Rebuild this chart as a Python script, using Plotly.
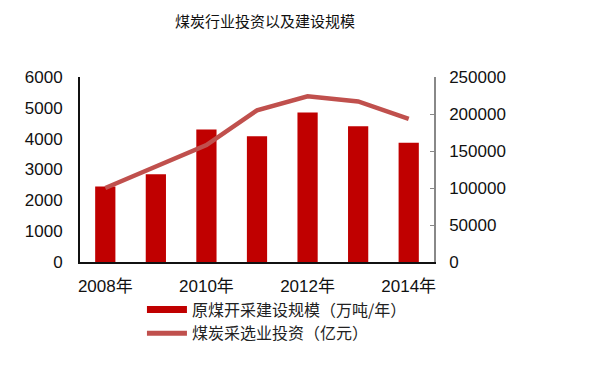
import plotly.graph_objects as go

years = [2008, 2009, 2010, 2011, 2012, 2013, 2014]
capacity = [2450, 2850, 4300, 4080, 4850, 4400, 3870]          # 原煤开采建设规模(万吨/年)
investment = [100000, 129500, 158000, 205000, 224000, 217000, 193500]  # 煤炭采选业投资(亿元)
tick_years = [2008, 2010, 2012, 2014]
tick_text = ["2008年", "2010年", "2012年", "2014年"]
left_ticks = [0, 1000, 2000, 3000, 4000, 5000, 6000]
right_ticks = [0, 50000, 100000, 150000, 200000, 250000]

name_bar = "原煤开采建设规模（万吨/年）"
name_line = "煤炭采选业投资（亿元）"
title = "煤炭行业投资以及建设规模"

BAR_COLOR = "#C00000"
LINE_COLOR = "#C0504D"
FONT = "Liberation Sans, Arial, Noto Sans CJK SC"

# the page body adds an 8px offset, so the figure is 8px smaller on each axis
W, H = 584, 358

fig = go.Figure()
fig.add_trace(go.Bar(x=years, y=capacity, name=name_bar, marker_color=BAR_COLOR,
                     marker_line_width=0, showlegend=False, yaxis="y"))
fig.add_trace(go.Scatter(x=years, y=investment, name=name_line, mode="lines",
                         line=dict(color=LINE_COLOR, width=4.5), showlegend=False, yaxis="y2"))
# legend entries drawn as thick lines, like the reference
fig.add_trace(go.Scatter(x=[None], y=[None], name=name_bar, mode="lines",
                         line=dict(color=BAR_COLOR, width=7)))
fig.add_trace(go.Scatter(x=[None], y=[None], name=name_line, mode="lines",
                         line=dict(color=LINE_COLOR, width=5)))

fig.update_layout(
    width=W, height=H,
    margin=dict(l=72, r=158, t=69, b=104, autoexpand=False),
    paper_bgcolor="white", plot_bgcolor="white",
    font=dict(family=FONT, size=17, color="#111"),
    bargap=0.6,
    title=dict(text=title, x=257 / W, xanchor="center", y=1 - 14 / H, yanchor="middle",
               font=dict(family="Noto Sans CJK SC", size=15, color="#111")),
    xaxis=dict(range=[2007.5, 2014.5], tickmode="array", tickvals=tick_years, ticktext=tick_text,
               showline=True, linecolor="#111", linewidth=2, ticks="", showgrid=False,
               zeroline=False, tickfont=dict(size=17), ticklabelstandoff=8),
    yaxis=dict(range=[0, 6000], tickmode="array", tickvals=left_ticks, showline=True,
               linecolor="#111", linewidth=2, ticks="", showgrid=False, zeroline=False,
               ticklabelstandoff=12),
    yaxis2=dict(range=[0, 250000], tickmode="array", tickvals=right_ticks,
                ticktext=[str(v) for v in right_ticks], overlaying="y",
                side="right", showline=True, linecolor="#888", linewidth=1.5, ticks="inside",
                ticklen=4, tickcolor="#888", showgrid=False, zeroline=False,
                ticklabelstandoff=10),
    legend=dict(x=0.175, y=-0.165, xanchor="left", yanchor="top", orientation="v",
                font=dict(family="Noto Sans CJK SC", size=16, color="#222"),
                bgcolor="rgba(0,0,0,0)", itemwidth=40, tracegroupgap=0),
)

fig.write_html("out.html")
